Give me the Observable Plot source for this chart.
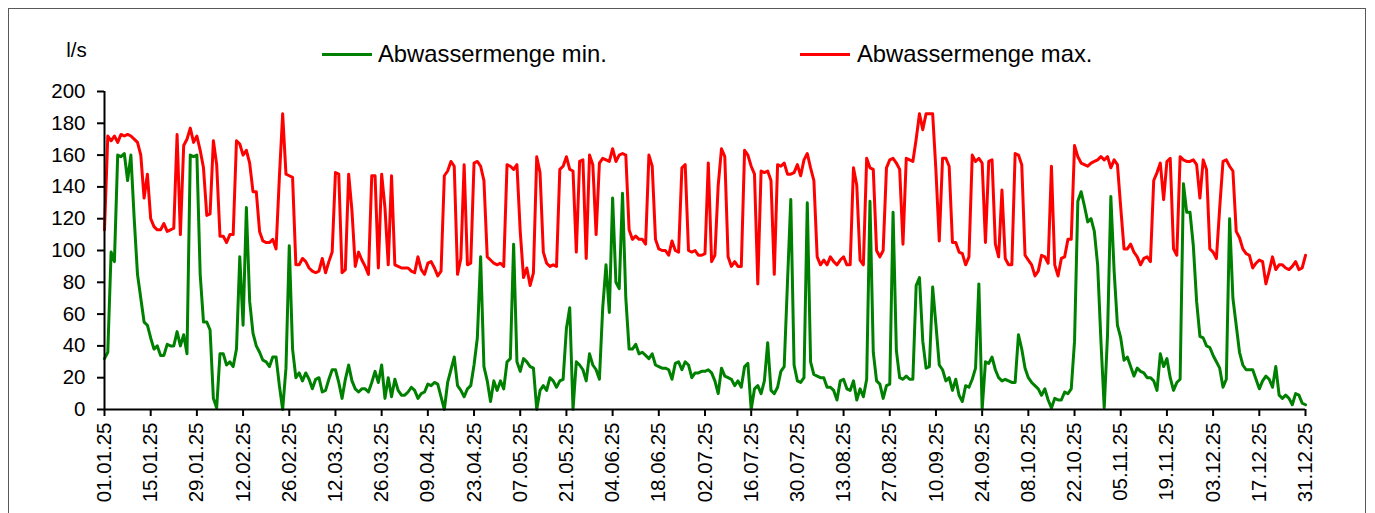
<!DOCTYPE html>
<html>
<head>
<meta charset="utf-8">
<script src="https://cdn.jsdelivr.net/npm/d3@7"></script>
<script src="https://cdn.jsdelivr.net/npm/@observablehq/plot@0.6"></script>
<style>
  html, body { margin: 0; padding: 0; background: #fff; }
  #wrap { position: relative; width: 1375px; height: 513px; overflow: hidden;
          font-family: "Liberation Sans", Arial, sans-serif; color: #000; }
  #frame { position: absolute; left: 8px; top: 8px; width: 1358px; height: 530px;
           border: 1px solid #595959; box-sizing: border-box; pointer-events: none; }
  #chart { position: absolute; left: 0; top: 0; }
  .lg-line { position: absolute; height: 3px; width: 50px; }
  .lg-text { position: absolute; font-size: 23.8px; line-height: 24px; white-space: nowrap; }
</style>
</head>
<body>
<div id="wrap">
  <div id="chart"></div>
  <div id="legend"></div>
  <div id="frame"></div>
</div>
<script>
// ---- data (daily values, 01.01.2025 – 31.12.2025) ----
const startDate = "2025-01-01";
const dayCount = 365;

const seriesNames = ["Abwassermenge min.", "Abwassermenge max."];
const seriesColors = ["#008000", "#ff0000"];

const minValues = [
  32, 36, 99, 93, 160, 159, 161, 144, 160, 120,
  85, 70, 55, 53, 45, 38, 40, 34, 34, 41,
  40, 40, 49, 40, 47, 35, 160, 159, 160, 85,
  55, 55, 50, 7, 1, 35, 35, 28, 30, 27,
  38, 96, 53, 127, 68, 48, 40, 36, 31, 30,
  27, 33, 33, 15, 0, 26, 103, 38, 20, 23,
  18, 23, 19, 13, 19, 20, 11, 12, 19, 25,
  25, 17, 7, 19, 28, 18, 13, 11, 13, 13,
  11, 17, 24, 17, 28, 7, 20, 8, 19, 12,
  9, 9, 11, 14, 12, 7, 10, 11, 16, 15,
  17, 16, 8, 0, 17, 25, 33, 15, 12, 8,
  13, 15, 28, 45, 96, 27, 18, 5, 18, 12,
  18, 13, 30, 32, 104, 30, 24, 32, 30, 27,
  26, 0, 12, 15, 12, 20, 18, 14, 18, 19,
  51, 64, 0, 30, 28, 25, 18, 35, 28, 25,
  19, 64, 91, 61, 133, 80, 76, 136, 70, 38,
  38, 41, 35, 36, 34, 32, 35, 28, 27, 26,
  26, 25, 19, 29, 30, 25, 30, 28, 20, 23,
  23, 24, 24, 25, 23, 18, 10, 26, 21, 20,
  19, 15, 18, 14, 27, 29, 0, 13, 15, 10,
  18, 42, 12, 10, 14, 24, 27, 80, 132, 28,
  18, 17, 20, 130, 30, 22, 21, 20, 20, 14,
  14, 12, 6, 18, 19, 13, 12, 18, 6, 13,
  8, 19, 131, 36, 18, 16, 7, 15, 16, 124,
  37, 20, 19, 21, 19, 19, 78, 83, 43, 26,
  27, 77, 53, 28, 25, 18, 20, 12, 19, 9,
  5, 15, 14, 19, 26, 79, 0, 30, 29, 33,
  25, 20, 18, 19, 18, 17, 17, 47, 38, 26,
  20, 17, 15, 13, 9, 13, 6, 1, 7, 6,
  6, 11, 10, 13, 43, 131, 137, 128, 118, 120,
  112, 91, 43, 1, 47, 134, 87, 53, 45, 31,
  33, 27, 21, 26, 24, 23, 20, 20, 18, 12,
  35, 27, 32, 20, 12, 17, 19, 142, 124, 124,
  103, 68, 46, 45, 40, 39, 34, 30, 26, 14,
  19, 120, 70, 53, 36, 28, 25, 25, 25, 19,
  13, 18, 21, 19, 14, 27, 9, 7, 9, 7,
  3, 10, 9, 4, 3
];

const maxValues = [
  113, 172, 169, 172, 168, 173, 172, 173, 172, 170,
  168, 160, 133, 148, 120, 115, 113, 113, 117, 112,
  113, 114, 173, 110, 166, 170, 177, 168, 172, 163,
  152, 122, 123, 169, 154, 109, 109, 105, 110, 110,
  169, 167, 160, 163, 155, 137, 137, 112, 106, 105,
  105, 107, 101, 146, 186, 148, 147, 146, 91, 91,
  95, 93, 89, 87, 86, 87, 95, 86, 93, 99,
  149, 148, 86, 88, 148, 125, 90, 99, 94, 90,
  85, 147, 147, 89, 148, 127, 91, 147, 91, 90,
  89, 89, 89, 87, 86, 96, 88, 85, 92, 93,
  89, 84, 87, 147, 150, 156, 153, 85, 95, 154,
  91, 92, 155, 156, 153, 144, 96, 94, 92, 91,
  92, 90, 154, 153, 151, 154, 112, 83, 89, 78,
  86, 159, 149, 99, 92, 90, 91, 90, 151, 153,
  159, 151, 150, 99, 156, 157, 95, 160, 154, 110,
  155, 158, 157, 156, 164, 156, 160, 161, 160, 113,
  107, 109, 107, 107, 104, 160, 153, 107, 101, 100,
  100, 97, 106, 100, 99, 152, 154, 100, 99, 100,
  97, 97, 98, 155, 93, 97, 141, 164, 159, 96,
  90, 93, 90, 90, 163, 160, 153, 148, 79, 150,
  149, 150, 144, 85, 154, 153, 155, 148, 148, 149,
  154, 147, 157, 161, 152, 144, 96, 91, 94, 91,
  96, 93, 91, 94, 96, 91, 91, 152, 141, 94,
  91, 158, 152, 151, 100, 96, 100, 152, 157, 158,
  155, 151, 104, 158, 157, 156, 170, 186, 176, 186,
  186, 186, 150, 106, 158, 158, 153, 105, 105, 99,
  98, 91, 96, 160, 156, 158, 155, 105, 156, 157,
  104, 96, 138, 95, 91, 91, 161, 160, 154, 97,
  94, 91, 84, 87, 97, 96, 92, 153, 91, 84,
  95, 96, 107, 107, 166, 159, 155, 154, 153, 155,
  156, 157, 159, 157, 159, 152, 157, 154, 127, 101,
  101, 104, 99, 96, 91, 95, 96, 93, 144, 149,
  155, 132, 156, 158, 101, 97, 159, 157, 156, 156,
  157, 154, 133, 157, 151, 101, 99, 95, 127, 156,
  157, 153, 150, 112, 108, 101, 98, 97, 89, 92,
  94, 93, 79, 87, 96, 88, 91, 91, 89, 88,
  90, 93, 88, 89, 97
];

const tickLabels = [
  "01.01.25", "15.01.25", "29.01.25", "12.02.25", "26.02.25", "12.03.25", "26.03.25",
  "09.04.25", "23.04.25", "07.05.25", "21.05.25", "04.06.25", "18.06.25", "02.07.25",
  "16.07.25", "30.07.25", "13.08.25", "27.08.25", "10.09.25", "24.09.25", "08.10.25",
  "22.10.25", "05.11.25", "19.11.25", "03.12.25", "17.12.25", "31.12.25"
];
const tickStep = 14;
const yTicks = [0, 20, 40, 60, 80, 100, 120, 140, 160, 180, 200];
const unitLabel = "l/s";

// ---- build table ----
const days = d3.range(dayCount);
const rows = days.map(i => ({day: i, min: minValues[i], max: maxValues[i]}));
const tickDays = tickLabels.map((_, k) => k * tickStep);

const font = '"Liberation Sans", Arial, sans-serif';

const chart = Plot.plot({
  width: 1375,
  height: 513,
  marginTop: 91,
  marginBottom: 104,
  marginLeft: 104,
  marginRight: 70,
  style: {fontFamily: font, color: "#000", background: "transparent", overflow: "visible"},
  x: {type: "linear", domain: [0, dayCount - 1]},
  y: {domain: [0, 200]},
  marks: [
    Plot.axisY({ticks: yTicks, tickSize: 7, tickPadding: 12, fontSize: 20.5,
                strokeWidth: 2, label: null, tickFormat: d => String(d)}),
    Plot.axisX({ticks: tickDays, tickSize: 7, tickPadding: 6, fontSize: 20.5,
                tickRotate: -90, strokeWidth: 2, label: null,
                tickFormat: d => tickLabels[Math.round(d / tickStep)]}),
    Plot.lineY(rows, {x: "day", y: "min", stroke: seriesColors[0], strokeWidth: 3,
                      strokeLinejoin: "round", strokeLinecap: "round"}),
    Plot.lineY(rows, {x: "day", y: "max", stroke: seriesColors[1], strokeWidth: 3,
                      strokeLinejoin: "round", strokeLinecap: "round"}),
    Plot.ruleX([0], {stroke: "#000", strokeWidth: 2}),
    Plot.ruleY([0], {stroke: "#000", strokeWidth: 2}),
    Plot.text([unitLabel], {frameAnchor: "top-left", dx: -28, dy: -49,
                            fontSize: 20.5, textAnchor: "middle", fill: "#000"})
  ]
});
document.getElementById("chart").appendChild(chart);

// ---- legend ----
const legend = document.getElementById("legend");
const legendPos = [{line: 322, text: 378}, {line: 800, text: 857}];
seriesNames.forEach((name, k) => {
  const ln = document.createElement("div");
  ln.className = "lg-line";
  ln.style.left = legendPos[k].line + "px";
  ln.style.top = "52.5px";
  ln.style.background = seriesColors[k];
  legend.appendChild(ln);
  const tx = document.createElement("div");
  tx.className = "lg-text";
  tx.style.left = legendPos[k].text + "px";
  tx.style.top = "42px";
  tx.textContent = name;
  legend.appendChild(tx);
});
</script>
</body>
</html>
